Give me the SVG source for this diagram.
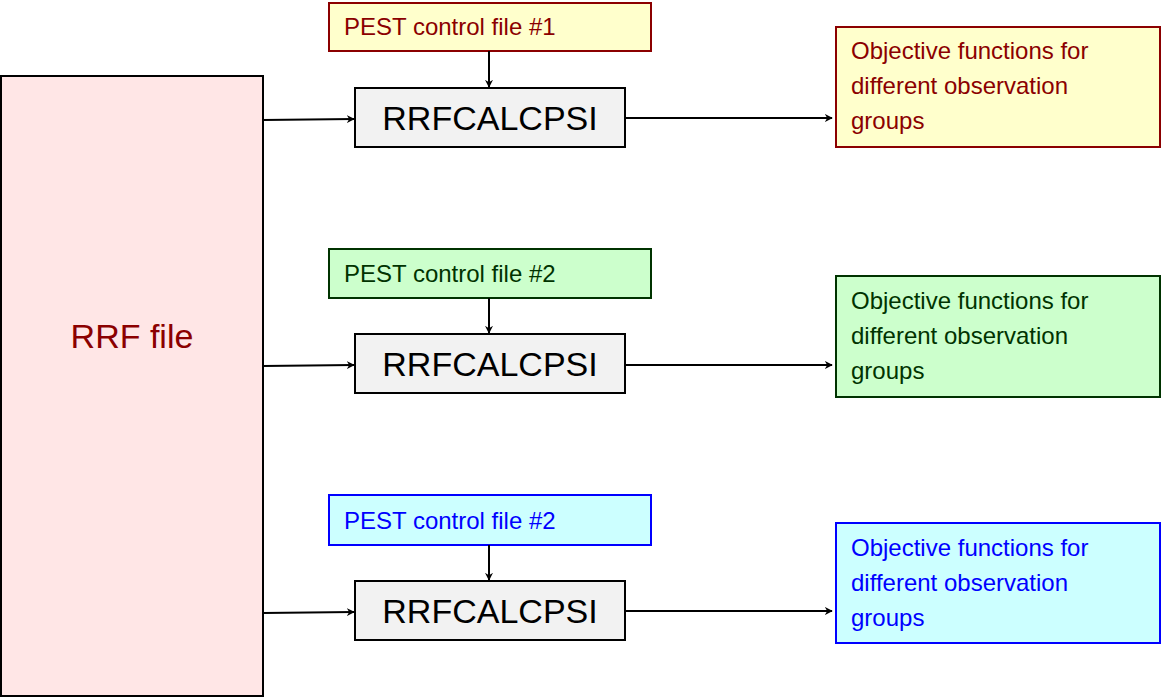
<svg xmlns="http://www.w3.org/2000/svg" width="1165" height="698" viewBox="0 0 1165 698">
<defs>
<marker id="ah" viewBox="0 0 10 10" refX="9" refY="5" markerWidth="8" markerHeight="8" orient="auto" markerUnits="userSpaceOnUse"><path d="M0,0 L10,5 L0,10 L3,5 Z" fill="#000"/></marker>
<style>
text{font-family:"Liberation Sans",Arial,sans-serif}
.pest{font-size:24px}
.prog{font-size:34px;fill:#000;text-anchor:middle}
.obj{font-size:24px}
.c{stroke:#000;stroke-width:2;fill:none;marker-end:url(#ah)}
</style>
</defs>
<rect width="1165" height="698" fill="#fff"/>
<g id="rrf"><rect x="1" y="76" width="262" height="620" fill="#ffe6e6" stroke="#000" stroke-width="2"/><text x="132" y="348" font-size="34" fill="#8b0000" text-anchor="middle" style="font-size:34px">RRF file</text></g>
<g id="pest1"><rect x="329" y="3" width="322" height="48" fill="#ffffcc" stroke="#8b0000" stroke-width="2"/><text class="pest" x="344" y="35" fill="#8b0000">PEST control file #1</text></g>
<g id="pest2"><rect x="329" y="249" width="322" height="49" fill="#ccffcc" stroke="#003300" stroke-width="2"/><text class="pest" x="344" y="282" fill="#003300">PEST control file #2</text></g>
<g id="pest3"><rect x="329" y="495" width="322" height="50" fill="#ccffff" stroke="#0000ff" stroke-width="2"/><text class="pest" x="344" y="529" fill="#0000ff">PEST control file #2</text></g>
<g id="calc1"><rect x="355" y="88" width="270" height="59" fill="#f2f2f2" stroke="#000" stroke-width="2"/><text class="prog" x="490" y="130">RRFCALCPSI</text></g>
<g id="calc2"><rect x="355" y="334" width="270" height="59" fill="#f2f2f2" stroke="#000" stroke-width="2"/><text class="prog" x="490" y="376">RRFCALCPSI</text></g>
<g id="calc3"><rect x="355" y="581" width="270" height="59" fill="#f2f2f2" stroke="#000" stroke-width="2"/><text class="prog" x="490" y="623">RRFCALCPSI</text></g>
<g id="obj1"><rect x="836" y="27" width="324" height="120" fill="#ffffcc" stroke="#8b0000" stroke-width="2"/><text class="obj" fill="#8b0000"><tspan x="851" y="59">Objective functions for</tspan><tspan x="851" y="94">different observation</tspan><tspan x="851" y="129">groups</tspan></text></g>
<g id="obj2"><rect x="836" y="276" width="324" height="121" fill="#ccffcc" stroke="#003300" stroke-width="2"/><text class="obj" fill="#003300"><tspan x="851" y="309">Objective functions for</tspan><tspan x="851" y="344">different observation</tspan><tspan x="851" y="379">groups</tspan></text></g>
<g id="obj3"><rect x="836" y="523" width="324" height="120" fill="#ccffff" stroke="#0000ff" stroke-width="2"/><text class="obj" fill="#0000ff"><tspan x="851" y="556">Objective functions for</tspan><tspan x="851" y="591">different observation</tspan><tspan x="851" y="626">groups</tspan></text></g>
<g id="connectors">
<line class="c" x1="263" y1="120" x2="354" y2="119"/>
<line class="c" x1="263" y1="366" x2="354" y2="365"/>
<line class="c" x1="263" y1="613" x2="354" y2="612"/>
<line class="c" x1="489" y1="51" x2="489" y2="87"/>
<line class="c" x1="489" y1="298" x2="489" y2="333"/>
<line class="c" x1="489" y1="545" x2="489" y2="580"/>
<line class="c" x1="625" y1="118" x2="832" y2="118"/>
<line class="c" x1="625" y1="365" x2="832" y2="365"/>
<line class="c" x1="625" y1="611" x2="832" y2="611"/>
</g>
</svg>
